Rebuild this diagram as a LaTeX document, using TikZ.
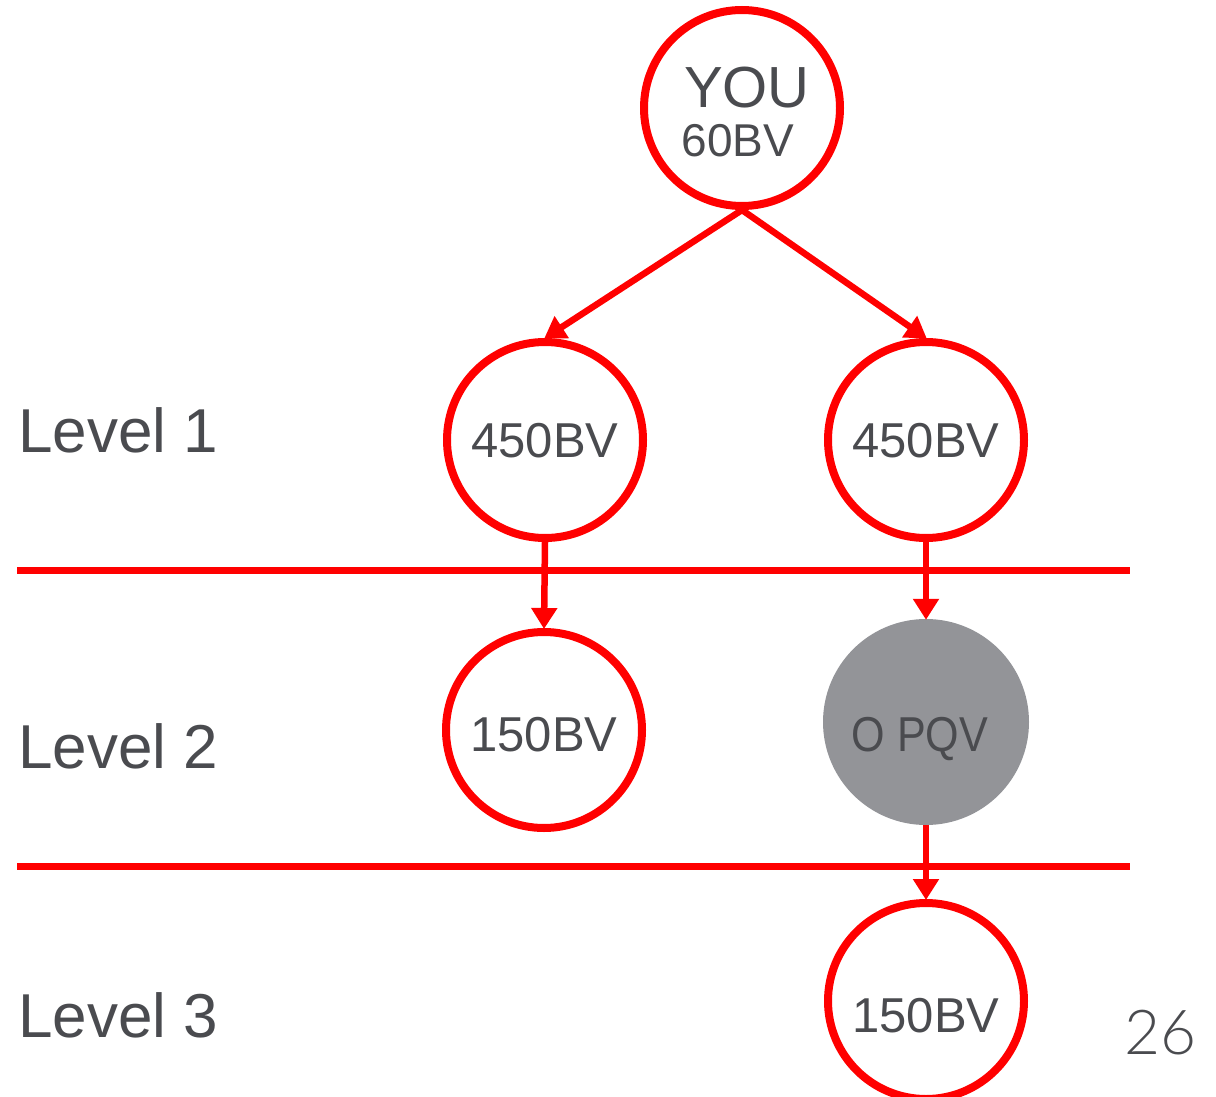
\documentclass[tikz,border=0pt]{standalone}
\usepackage{fontspec}
\usepackage{graphicx}
\setmainfont{Liberation Sans}
\newfontfamily\pagenumfont{Lato Light}
\usetikzlibrary{arrows.meta}
\definecolor{tree red}{HTML}{FF0000}
\definecolor{label grey}{HTML}{4A4B4F}
\definecolor{disc grey}{HTML}{939498}
\tikzset{
  bvnode/.style={circle, draw=tree red, line width=8pt, fill=white,
    minimum size=196pt, inner sep=0pt, text=label grey},
  emptynode/.style={circle, fill=disc grey, minimum size=206pt,
    inner sep=0pt, text=label grey},
  link/.style={draw=tree red, line width=6.5pt,
    -{Triangle[length=21pt,width=25pt]}, shorten >=-1pt},
  divider/.style={draw=tree red, line width=7pt},
  levellabel/.style={anchor=base west, inner sep=0pt, text=label grey,
    font=\fontsize{62}{62}\selectfont},
  % caps are 35pt high; a taller text box pushes the text below the centre
  bvtext/.style={font=\fontsize{49}{49}\selectfont, text depth=0pt,
    text height=35pt+2*#1},
  bvtext/.default=0pt
}
\begin{document}
\begin{tikzpicture}[x=1pt,y=-1pt]
  \useasboundingbox (0,0) rectangle (1216,1097);
  \clip (0,0) rectangle (1216,1097);

  % level dividers
  \coordinate (d1l) at (17,570);  \coordinate (d1r) at (1130,570);
  \coordinate (d2l) at (17,866);  \coordinate (d2r) at (1130,866);
  \path[divider] (d1l) -- (d1r);
  \path[divider] (d2l) -- (d2r);

  % tree nodes
  \node[bvnode] (you) at (742,108) {};
  \node[text=label grey, font=\fontsize{58}{58}\selectfont] (youname) at (747,88) {YOU};
  \node[text=label grey, font=\fontsize{46}{46}\selectfont] (youbv) at (738,141) {60BV};

  \node[bvnode, bvtext] (l1a) at (545,440) {450BV};
  \node[bvnode, bvtext] (l1b) at (926,440) {450BV};
  \node[bvnode, bvtext=4pt] (l2a) at (544,730) {150BV};
  \node[emptynode, bvtext=12pt] (l2b) at (926,722)
    {\hspace*{-12pt}\scalebox{0.88}[1]{O PQV}};
  \node[bvnode, bvtext=14pt] (l3b) at (926,1001) {150BV};

  % connectors
  \path[link] (you.south) -- (l1a.north);
  \path[link] (you.south) -- (l1b.north);
  \path[link] (l1a.south) -- (l2a.north);
  \path[link] (l1b.south) -- (l2b.north);
  \path[link] (l2b.south) -- (l3b.north);

  % level labels
  \node[levellabel] (lv1) at (18,452) {Level 1};
  \node[levellabel] (lv2) at (18,768) {Level 2};
  \node[levellabel] (lv3) at (18,1037) {Level 3};

  % page number
  \node[text=label grey, font=\pagenumfont\fontsize{62}{62}\selectfont] (pagenum) at (1160,1033) {26};
\end{tikzpicture}
\end{document}
